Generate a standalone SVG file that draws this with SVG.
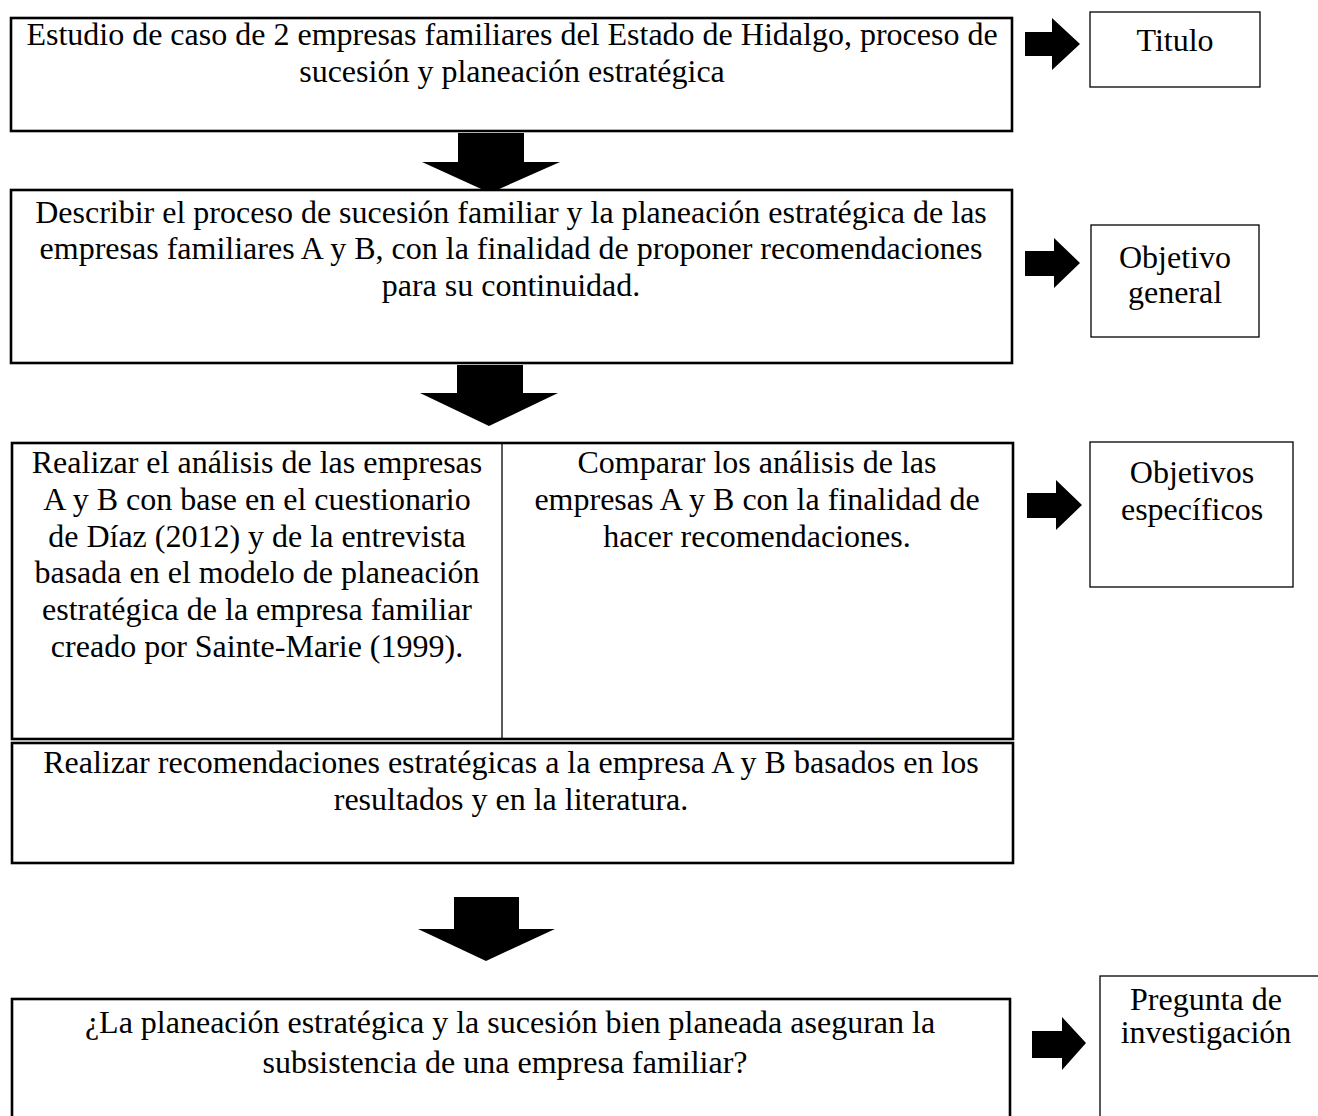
<svg xmlns="http://www.w3.org/2000/svg" width="1318" height="1116" viewBox="0 0 1318 1116">
  <style>
    text { font-family: "Liberation Serif", "Times New Roman", serif; font-size: 32px; fill: #000; text-anchor: middle; }
    .main { fill: #fff; stroke: #000; stroke-width: 2.6; }
    .label { fill: #fff; stroke: #000; stroke-width: 1.3; }
    .thin { stroke: #000; stroke-width: 1.3; fill: none; }
    .arrow { fill: #000; stroke: none; }
  </style>
  <rect x="0" y="0" width="1318" height="1116" fill="#fff"/>

  <!-- block arrows: three downward between the stages, four pointing at the labels -->
  <g id="connectors">
    <polygon class="arrow" points="458,133 524,133 524,162 560,162 490,193 422,162 458,162"/>
    <polygon class="arrow" points="457,365 523,365 523,393 558,393 489,426 420,393 457,393"/>
    <polygon class="arrow" points="454,897 519,897 519,929 555,929 486,961 418,929 454,929"/>
    <polygon class="arrow" points="1025,32 1052,32 1052,18 1080,44 1052,70 1052,56 1025,56"/>
    <polygon class="arrow" points="1025,251 1054,251 1054,238 1080,263 1054,288 1054,276 1025,276"/>
    <polygon class="arrow" points="1027,493 1056,493 1056,480 1082,505 1056,530 1056,518 1027,518"/>
    <polygon class="arrow" points="1032,1031 1062,1031 1062,1017 1086,1043 1062,1070 1062,1058 1032,1058"/>
  </g>

  <g id="titulo-text">
    <rect class="main" x="11" y="18" width="1001" height="113"/>
    <text x="512" y="45">Estudio de caso de 2 empresas familiares del Estado de Hidalgo, proceso de</text>
    <text x="512" y="82">sucesión y planeación estratégica</text>
  </g>
  <g id="titulo-label">
    <rect class="label" x="1090" y="12" width="170" height="75"/>
    <text x="1175" y="51">Titulo</text>
  </g>

  <g id="objetivo-text">
    <rect class="main" x="11" y="190" width="1001" height="173"/>
    <text x="511" y="223">Describir el proceso de sucesión familiar y la planeación estratégica de las</text>
    <text x="511" y="259">empresas familiares A y B, con la finalidad de proponer recomendaciones</text>
    <text x="511" y="296">para su continuidad.</text>
  </g>
  <g id="objetivo-label">
    <rect class="label" x="1091" y="225" width="168" height="112"/>
    <text x="1175" y="268">Objetivo</text>
    <text x="1175" y="303">general</text>
  </g>

  <g id="especificos-text">
    <rect class="main" x="12" y="443" width="1001" height="296"/>
    <line class="thin" x1="502" y1="443" x2="502" y2="739"/>
    <text x="257" y="473">Realizar el análisis de las empresas</text>
    <text x="257" y="510">A y B con base en el cuestionario</text>
    <text x="257" y="547">de Díaz (2012) y de la entrevista</text>
    <text x="257" y="583">basada en el modelo de planeación</text>
    <text x="257" y="620">estratégica de la empresa familiar</text>
    <text x="257" y="657">creado por Sainte-Marie (1999).</text>
    <text x="757" y="473">Comparar los análisis de las</text>
    <text x="757" y="510">empresas A y B con la finalidad de</text>
    <text x="757" y="547">hacer recomendaciones.</text>
  </g>
  <g id="recomendaciones-text">
    <rect class="main" x="12" y="743" width="1001" height="120"/>
    <text x="511" y="773">Realizar recomendaciones estratégicas a la empresa A y B basados en los</text>
    <text x="511" y="810">resultados y en la literatura.</text>
  </g>
  <g id="especificos-label">
    <rect class="label" x="1090" y="442" width="203" height="145"/>
    <text x="1192" y="483">Objetivos</text>
    <text x="1192" y="520">específicos</text>
  </g>

  <g id="pregunta-text">
    <rect class="main" x="12" y="999" width="998" height="140"/>
    <text x="510" y="1033">¿La planeación estratégica y la sucesión bien planeada aseguran la</text>
    <text x="505" y="1073">subsistencia de una empresa familiar?</text>
  </g>
  <g id="pregunta-label">
    <rect class="label" x="1100" y="976" width="240" height="160"/>
    <text x="1206" y="1010">Pregunta de</text>
    <text x="1206" y="1043">investigación</text>
  </g>
</svg>
